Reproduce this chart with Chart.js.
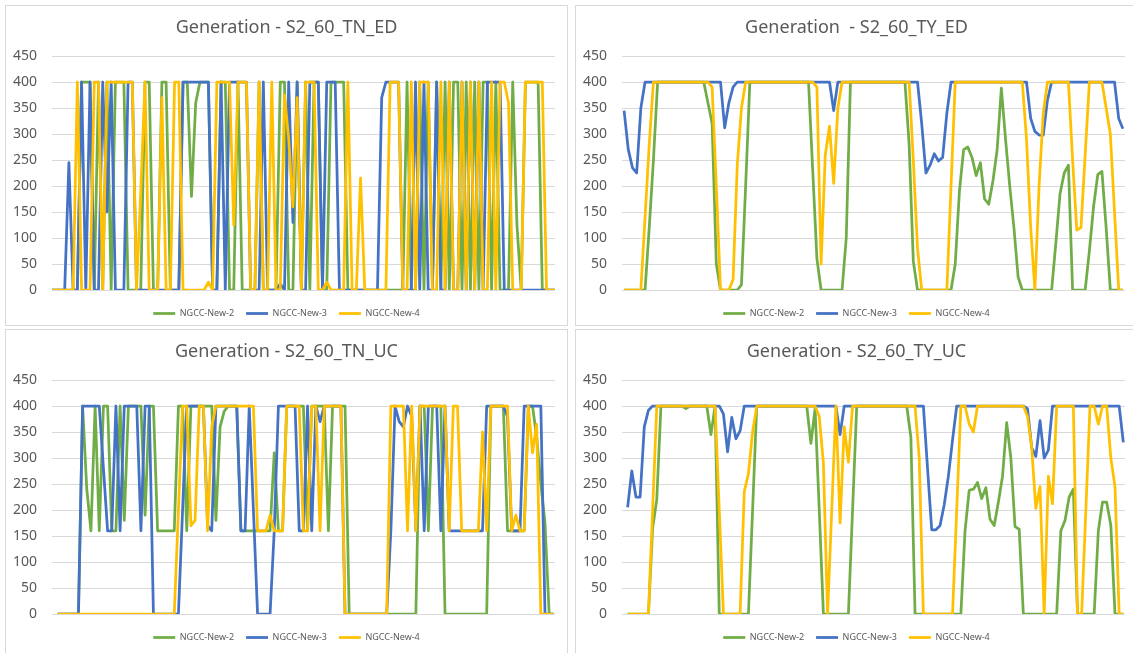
<!DOCTYPE html>
<html>
<head>
<meta charset="utf-8">
<script src="https://cdn.jsdelivr.net/npm/chart.js@4.4.1/dist/chart.umd.min.js"></script>
<style>
  body { margin: 0; background: #fff; width: 1133px; height: 653px; overflow: hidden; position: relative; }
  .panel { position: absolute; border: 1px solid #d9d9d9; box-sizing: border-box; overflow: hidden; background: #fff; }
  .panel canvas { position: absolute; left: 0; top: 0; }
</style>
</head>
<body>
<div class="panel" style="left:5px;top:5px;width:563px;height:321px"><canvas id="tnEd" width="561" height="322"></canvas></div>
<div class="panel" style="left:575px;top:5px;width:563px;height:321px"><canvas id="tyEd" width="561" height="322"></canvas></div>
<div class="panel" style="left:5px;top:329px;width:563px;height:330px"><canvas id="tnUc" width="561" height="322"></canvas></div>
<div class="panel" style="left:575px;top:329px;width:563px;height:330px"><canvas id="tyUc" width="561" height="322"></canvas></div>
<script>
// hour index along the x axis
const hours = Array.from({ length: 120 }, (_, i) => i + 1)
const seriesNames = ['NGCC-New-2', 'NGCC-New-3', 'NGCC-New-4']
const seriesColors = ['#70ad47', '#4472c4', '#ffc000']
const yTicks = [0, 50, 100, 150, 200, 250, 300, 350, 400, 450]

// S2_60_TN_ED
const tnEdNew2 = [
    0,0,0,0,0,0,0,400,400,400, 0,400,0,400,0,400,400,400,0,0,
    0,0,400,400,0,0,400,400,0,0, 0,400,400,180,360,400,400,400,0,0,
    400,400,0,0,400,0,0,0,0,400, 0,0,0,0,400,400,0,0,400,0,
    400,0,400,400,0,0,400,400,400,400, 0,0,0,0,0,0,0,0,0,0,
    0,0,0,0,400,0,0,400,0,400, 0,400,0,400,0,400,400,0,400,0,
    400,0,400,400,0,400,0,0,0,400, 125,0,400,400,400,400,0,0,0,0]
const tnEdNew3 = [
    0,0,0,0,245,0,0,400,0,400, 0,0,400,150,400,0,0,0,400,400,
    0,0,0,0,0,0,0,0,0,0, 0,400,400,400,400,400,400,400,0,0,
    400,0,400,400,400,400,400,0,0,0, 400,0,0,0,12,0,400,130,400,0,
    0,400,400,400,0,400,400,400,0,0, 0,0,0,0,0,0,0,0,370,400,
    400,400,400,0,0,0,400,0,400,0, 0,400,0,0,400,0,0,400,0,400,
    0,400,0,400,400,400,400,0,0,0, 0,0,0,0,0,0,0,0,0,0]
const tnEdNew4 = [
    0,0,0,0,0,0,400,0,0,0, 400,400,0,400,400,400,400,400,400,400,
    0,190,400,0,0,0,370,0,0,400, 400,0,0,0,0,0,0,15,0,400,
    400,400,400,125,400,400,400,0,0,400, 0,0,400,0,0,375,290,160,370,0,
    400,400,400,0,0,15,0,0,0,0, 400,0,0,215,0,0,0,0,0,0,
    400,400,400,0,0,400,0,400,400,400, 0,0,400,0,400,0,0,400,0,400,
    0,400,0,0,400,0,400,400,360,0, 0,0,400,400,400,400,400,0,0,0]

// S2_60_TY_ED
const tyEdNew2 = [
    0,0,0,0,0,0,120,250,400,400, 400,400,400,400,400,400,400,400,400,400,
    360,320,50,0,0,0,0,0,10,200, 400,400,400,400,400,400,400,400,400,400,
    400,400,400,400,400,230,60,0,0,0, 0,0,0,100,400,400,400,400,400,400,
    400,400,400,400,400,400,400,400,280,55, 0,0,0,0,0,0,0,0,0,50,
    190,270,275,255,220,245,175,165,210,270, 388,290,200,120,25,0,0,0,0,0,
    0,0,0,90,185,225,240,0,0,0, 0,75,160,222,228,120,0,0,0,0]
const tyEdNew3 = [
    345,270,235,225,350,400,400,400,400,400, 400,400,400,400,400,400,400,400,400,400,
    400,400,400,400,312,360,390,400,400,400, 400,400,400,400,400,400,400,400,400,400,
    400,400,400,400,400,400,400,400,400,400, 345,400,400,400,400,400,400,400,400,400,
    400,400,400,400,400,400,400,400,400,400, 400,320,225,240,262,248,255,340,400,400,
    400,400,400,400,400,400,400,400,400,400, 400,400,400,400,400,400,400,330,305,298,
    298,365,400,400,400,400,400,400,400,400, 400,400,400,400,400,400,400,400,330,310]
const tyEdNew4 = [
    0,0,0,0,0,140,280,400,400,400, 400,400,400,400,400,400,400,400,400,400,
    400,390,200,0,0,0,20,240,350,400, 400,400,400,400,400,400,400,400,400,400,
    400,400,400,400,400,400,390,50,260,315, 205,350,400,400,400,400,400,400,400,400,
    400,400,400,400,400,400,400,400,400,250, 80,0,0,0,0,0,0,0,200,400,
    400,400,400,400,400,400,400,400,400,400, 400,400,400,400,400,400,290,120,0,200,
    340,400,400,400,400,400,400,250,115,120, 260,400,400,400,400,350,300,150,0,0]

// S2_60_TN_UC
const tnUcNew2 = [
    0,0,0,0,0,0,400,240,160,400, 160,400,400,160,160,400,180,400,400,400,
    400,190,400,400,160,160,160,160,160,400, 400,160,400,400,400,400,400,400,180,360,
    390,400,400,400,160,160,160,160,160,160, 160,160,310,160,160,400,400,400,400,400,
    160,400,400,400,400,160,400,400,400,400, 0,0,0,0,0,0,0,0,0,0,
    0,0,0,0,0,0,0,400,400,160, 400,400,400,0,0,0,0,0,0,0,
    0,0,0,0,400,400,400,400,160,160, 160,160,160,400,400,340,250,175,0,0]
const tnUcNew3 = [
    0,0,0,0,0,0,400,400,400,400, 400,280,160,160,400,160,400,400,400,400,
    160,400,400,0,0,0,0,0,0,0, 200,400,400,400,400,400,170,160,400,400,
    400,400,400,400,160,160,400,200,0,0, 0,0,160,400,400,400,400,400,160,160,
    400,160,400,370,400,400,400,400,400,0, 0,0,0,0,0,0,0,0,0,0,
    160,400,370,360,400,380,160,400,160,400, 400,400,160,400,160,160,160,160,160,160,
    160,160,160,400,400,400,400,400,380,160, 160,160,400,400,400,400,400,0,0,0]
const tnUcNew4 = [
    0,0,0,0,0,0,0,0,0,0, 0,0,0,0,0,0,0,0,0,0,
    0,0,0,0,0,0,0,0,0,200, 400,400,170,180,400,400,160,360,400,400,
    400,400,400,400,400,400,400,400,160,160, 160,190,160,160,160,400,400,400,400,160,
    160,400,400,160,400,400,400,400,400,0, 0,0,0,0,0,0,0,0,0,0,
    400,400,400,400,160,400,160,400,400,400, 400,400,400,400,160,400,400,160,160,160,
    160,160,350,160,400,400,400,400,400,160, 190,160,160,400,310,365,0,0,0,0]

// S2_60_TY_UC
const tyUcNew2 = [
    0,0,0,0,0,0,165,220,400,400, 400,400,400,400,395,400,400,400,400,400,
    345,400,0,0,0,0,0,0,0,0, 200,400,400,400,400,400,400,400,400,400,
    400,400,400,400,328,395,200,0,0,0, 0,0,0,0,200,400,400,400,400,400,
    400,400,400,400,400,400,400,400,340,0, 0,0,0,0,0,0,0,0,0,0,
    0,160,238,240,253,222,243,182,170,215, 265,368,300,168,163,0,0,0,0,0,
    0,0,0,0,160,180,225,240,0,0, 0,0,0,160,215,215,170,0,0,0]
const tyUcNew3 = [
    205,275,225,225,360,392,400,400,400,400, 400,400,400,400,400,400,400,400,400,400,
    400,400,400,385,312,378,337,352,400,400, 400,400,400,400,400,400,400,400,400,400,
    400,400,400,400,400,400,400,400,400,400, 400,345,400,400,400,400,400,400,400,400,
    400,400,400,400,400,400,400,400,400,400, 400,400,280,162,162,170,210,265,335,400,
    400,400,400,400,400,400,400,400,400,400, 400,400,400,400,400,400,395,320,303,372,
    300,315,400,400,400,400,400,400,400,400, 400,400,400,400,400,400,400,400,400,330]
const tyUcNew4 = [
    0,0,0,0,0,0,200,400,400,400, 400,400,400,400,400,400,400,400,400,400,
    400,400,200,0,0,0,0,0,235,270, 350,400,400,400,400,400,400,400,400,400,
    400,400,400,400,400,400,380,290,0,200, 400,175,360,292,400,400,400,400,400,400,
    400,400,400,400,400,400,400,400,400,400, 300,0,0,0,0,0,0,0,0,200,
    400,400,365,350,400,400,400,400,400,400, 400,400,400,400,400,400,380,320,203,245,
    0,265,212,400,400,400,400,400,0,0, 200,400,400,365,400,400,300,245,0,0]

const panels = [
    { id: 'tnEd', title: 'Generation - S2_60_TN_ED', series: [tnEdNew2, tnEdNew3, tnEdNew4], xMin: 1, xMax: 120 },
    { id: 'tyEd', title: 'Generation  - S2_60_TY_ED', series: [tyEdNew2, tyEdNew3, tyEdNew4], xMin: 0.5, xMax: 120.5 },
    { id: 'tnUc', title: 'Generation - S2_60_TN_UC', series: [tnUcNew2, tnUcNew3, tnUcNew4], xMin: -0.35, xMax: 120.4 },
    { id: 'tyUc', title: 'Generation - S2_60_TY_UC', series: [tyUcNew2, tyUcNew3, tyUcNew4], xMin: -0.35, xMax: 120.4 },
]

Chart.defaults.font.family = "'Noto Sans', sans-serif"
Chart.defaults.color = '#595959'
Chart.defaults.animation = false

panels.forEach((p) => {
    const datasets = seriesNames.map((name, k) => ({
        label: name,
        data: hours.map((h, i) => ({ x: h, y: p.series[k][i] })),
        borderColor: seriesColors[k],
        backgroundColor: seriesColors[k],
        borderWidth: 2.75,
        borderJoinStyle: 'round',
        pointRadius: 0,
        tension: 0,
        // New-4 on top, New-2 at the bottom
        order: 3 - k,
    }))

    new Chart(document.getElementById(p.id), {
        type: 'line',
        data: { datasets },
        options: {
            responsive: false,
            animation: false,
            events: [],
            layout: { padding: 0 },
            plugins: {
                title: {
                    display: true,
                    text: p.title,
                    color: '#595959',
                    font: { size: 18, weight: 'normal' },
                    padding: { top: 11.2, bottom: 17.2 },
                },
                legend: {
                    position: 'bottom',
                    labels: {
                        usePointStyle: true,
                        pointStyle: 'line',
                        pointStyleWidth: 22,
                        padding: 12,
                        color: '#595959',
                        font: { size: 9 },
                        sort: (a, b) => a.datasetIndex - b.datasetIndex,
                    },
                },
                tooltip: { enabled: false },
            },
            scales: {
                x: {
                    type: 'linear',
                    min: p.xMin,
                    max: p.xMax,
                    ticks: { display: false },
                    grid: { display: false },
                    border: { display: false },
                    afterFit: (s) => { s.height = 7 },
                },
                y: {
                    min: 0,
                    max: 450,
                    afterBuildTicks: (s) => { s.ticks = yTicks.map((v) => ({ value: v })) },
                    ticks: { padding: 15, color: '#595959', font: { size: 14 } },
                    grid: { color: '#d9d9d9', drawTicks: false },
                    border: { display: false },
                    afterFit: (s) => { s.width = 46 },
                },
                yRight: {
                    position: 'right',
                    ticks: { display: false },
                    grid: { display: false },
                    border: { display: false },
                    afterFit: (s) => { s.width = 12 },
                },
            },
        },
    })
})
</script>
</body>
</html>
